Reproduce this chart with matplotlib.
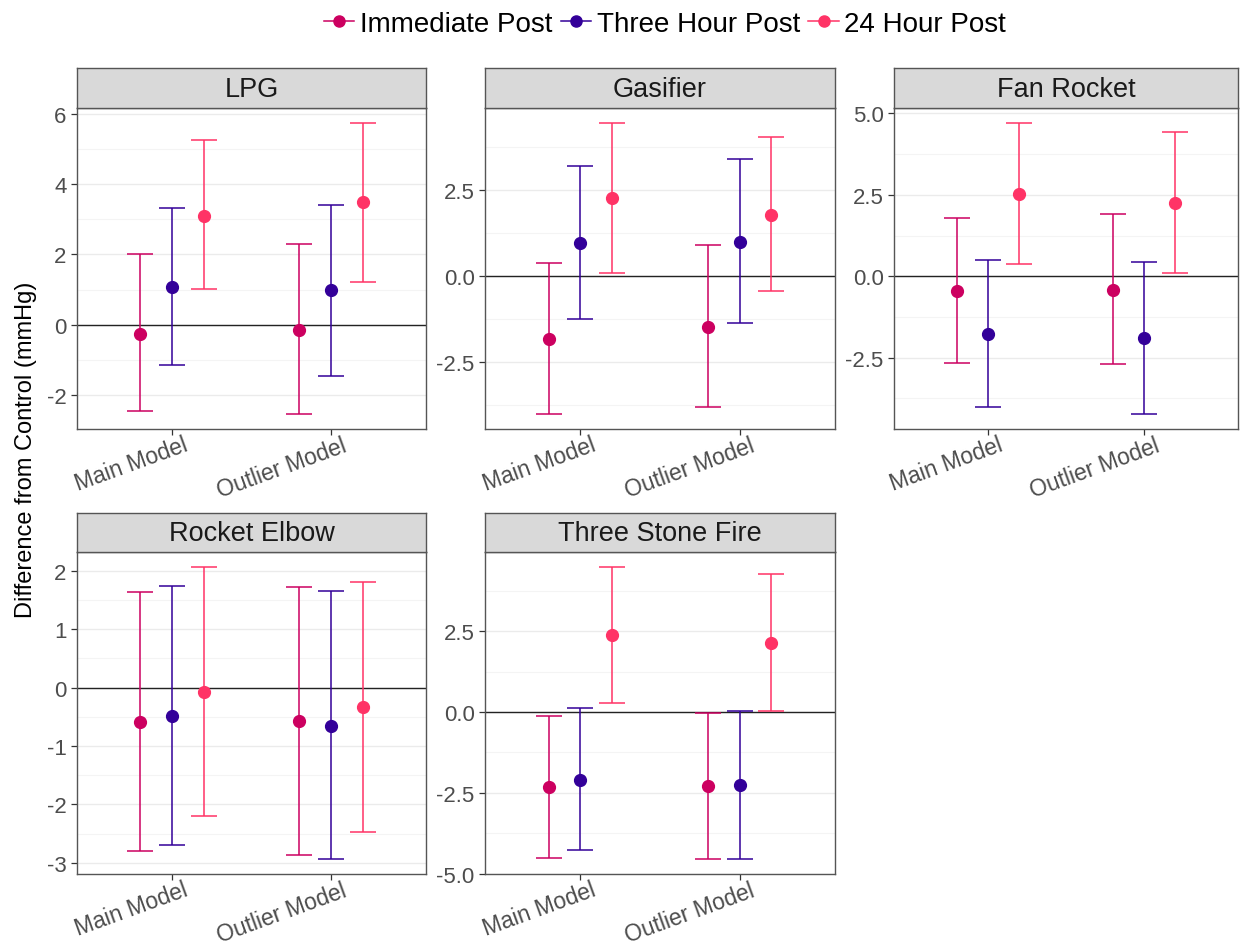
import matplotlib
matplotlib.use("Agg")
import matplotlib.pyplot as plt
import matplotlib.transforms as mtransforms
from matplotlib.lines import Line2D
from matplotlib.ticker import MultipleLocator, FormatStrFormatter
import numpy as np

plt.rcParams['font.family'] = ['Liberation Sans', 'DejaVu Sans']
plt.rcParams['axes.unicode_minus'] = False

# ---------------- data ----------------
models = ["Main Model", "Outlier Model"]
stoves = ["LPG", "Gasifier", "Fan Rocket", "Rocket Elbow", "Three Stone Fire"]
series = ["Immediate Post", "Three Hour Post", "24 Hour Post"]
colors = ["#CC0060", "#330099", "#FF3366"]

# estimates [stove][model]
immediate_est = [[-0.25, -0.15], [-1.83, -1.47], [-0.46, -0.41], [-0.59, -0.58], [-2.32, -2.29]]
immediate_lo  = [[-2.45, -2.55], [-4.02, -3.79], [-2.66, -2.69], [-2.79, -2.86], [-4.50, -4.54]]
immediate_hi  = [[2.02, 2.30], [0.39, 0.90], [1.78, 1.91], [1.63, 1.72], [-0.11, -0.02]]

three_est = [[1.08, 0.98], [0.97, 1.01], [-1.76, -1.90], [-0.49, -0.66], [-2.09, -2.27]]
three_lo  = [[-1.15, -1.45], [-1.25, -1.35], [-4.01, -4.24], [-2.69, -2.94], [-4.27, -4.54]]
three_hi  = [[3.33, 3.42], [3.22, 3.42], [0.51, 0.43], [1.74, 1.66], [0.12, 0.03]]

day_est = [[3.10, 3.48], [2.27, 1.79], [2.52, 2.25], [-0.07, -0.34], [2.37, 2.14]]
day_lo  = [[1.02, 1.22], [0.10, -0.42], [0.38, 0.09], [-2.20, -2.47], [0.27, 0.04]]
day_hi  = [[5.26, 5.75], [4.47, 4.04], [4.72, 4.42], [2.07, 1.81], [4.50, 4.27]]

tick_steps = [2, 2.5, 2.5, 1, 2.5]
tick_formats = ["%d", "%.1f", "%.1f", "%d", "%.1f"]

all_est = [immediate_est, three_est, day_est]
all_lo = [immediate_lo, three_lo, day_lo]
all_hi = [immediate_hi, three_hi, day_hi]

# ---------------- layout ----------------
W, H = 1241, 945
fig = plt.figure(figsize=(W / 100, H / 100), dpi=100)

cols_px = [(77, 426), (485, 835), (894, 1238)]
rows_px = [(69, 109, 430), (514, 553, 875)]  # strip top, panel top, panel bottom

positions = [(0, 0), (0, 1), (0, 2), (1, 0), (1, 1)]
dodge = [-0.2, 0.0, 0.2]
xbase = np.arange(len(models)) + 1

for i, stove in enumerate(stoves):
    r, c = positions[i]
    x0, x1 = cols_px[c]
    st, pt, pb = rows_px[r]
    ax = fig.add_axes([x0 / W, 1 - pb / H, (x1 - x0) / W, (pb - pt) / H])
    sax = fig.add_axes([x0 / W, 1 - pt / H, (x1 - x0) / W, (pt - st) / H])

    for k in range(3):
        est = np.array(all_est[k][i])
        lo = np.array(all_lo[k][i])
        hi = np.array(all_hi[k][i])
        ax.errorbar(xbase + dodge[k], est, yerr=[est - lo, hi - est], fmt='o',
                    color=colors[k], ecolor=colors[k], elinewidth=1.1,
                    capsize=9.2, capthick=1.1, markersize=8.5, zorder=3)

    ax.axhline(0, color='#222222', lw=1.0, zorder=2)
    ax.set_xlim(0.4, 2.6)
    ax.margins(y=0.05)
    ax.autoscale_view()
    lo_lim, hi_lim = ax.get_ylim()
    if stove == "Three Stone Fire":
        ax.set_ylim(min(lo_lim, -5.01), hi_lim)
    ax.yaxis.set_major_locator(MultipleLocator(tick_steps[i]))
    ax.yaxis.set_minor_locator(MultipleLocator(tick_steps[i] / 2))
    ax.yaxis.set_major_formatter(FormatStrFormatter(tick_formats[i]))
    ax.grid(True, axis='y', which='major', color='#EBEBEB', lw=1.0, zorder=0)
    ax.grid(True, axis='y', which='minor', color='#F4F4F4', lw=0.8, zorder=0)
    ax.set_axisbelow(True)
    ax.set_xticks(xbase)
    ax.set_xticklabels([])
    offset = mtransforms.ScaledTranslation(7.5 / 72, -3.0 / 72, fig.dpi_scale_trans)
    for xv, lab in zip(xbase, models):
        ax.text(xv, 0, lab, transform=ax.get_xaxis_transform() + offset,
                rotation=20, ha='right', va='top', rotation_mode='anchor',
                fontsize=16.5, color='#4D4D4D', clip_on=False)
    ax.tick_params(axis='both', labelsize=16, labelcolor='#4D4D4D', color='#333333',
                   length=4, width=0.9)
    ax.tick_params(axis='y', which='minor', length=0)
    for sp in ax.spines.values():
        sp.set_color('#555555')
        sp.set_linewidth(1.0)

    sax.set_facecolor('#D9D9D9')
    sax.set_xticks([])
    sax.set_yticks([])
    for sp in sax.spines.values():
        sp.set_color('#555555')
        sp.set_linewidth(1.0)
    sax.text(0.5, 0.48, stove, ha='center', va='center', fontsize=19.5,
             color='#1A1A1A', transform=sax.transAxes)

fig.text(26 / W, 1 - 450 / H, "Difference from Control (mmHg)", rotation=90,
         ha='center', va='center', fontsize=17, color='black')

handles = [Line2D([], [], color=colors[k], marker='o', markersize=8, lw=1.1)
           for k in range(3)]
fig.legend(handles, series, loc='center', bbox_to_anchor=(665 / W, 1 - 25 / H),
           ncol=3, frameon=False, fontsize=20, handlelength=1.1,
           handletextpad=0.2, columnspacing=0.3)

fig.savefig("out.png", dpi=100, facecolor='white')
